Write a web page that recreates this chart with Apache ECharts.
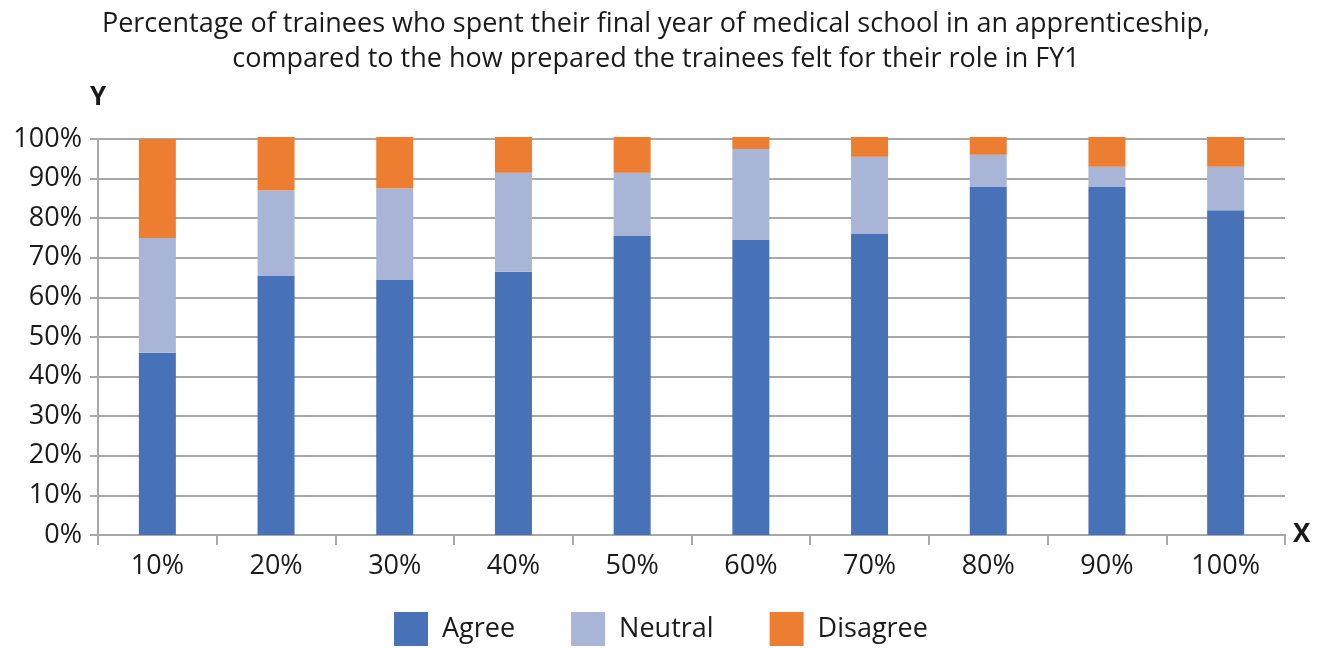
<!DOCTYPE html>
<html>
<head>
<meta charset="utf-8">
<script src="https://cdn.jsdelivr.net/npm/echarts@6/dist/echarts.min.js"></script>
<style>
  html, body { margin: 0; padding: 0; background: #fff; }
  #chart { width: 1325px; height: 648px; }
</style>
</head>
<body>
<div id="chart"></div>
<script>
"use strict";

const categories = ["10%", "20%", "30%", "40%", "50%", "60%", "70%", "80%", "90%", "100%"];
const agree = [46, 65.5, 64.5, 66.5, 75.5, 74.5, 76, 88, 88, 82];
const neutral = [29, 21.5, 23, 25, 16, 23, 19.5, 8, 5, 11];
const disagree = [25, 13.5, 13, 9, 9, 3, 5, 4.5, 7.5, 7.5];
const yTicks = [0, 10, 20, 30, 40, 50, 60, 70, 80, 90, 100];

const colors = { agree: "#4872b7", neutral: "#a9b5d7", disagree: "#ed7d31", text: "#1a1a1a", line: "#a8a8a8" };
const font = "'Open Sans', 'Noto Sans', sans-serif";

const chart = echarts.init(document.getElementById("chart"), null, { renderer: "canvas" });

function stack(name, data, color) {
  return { name, type: "bar", stack: "total", barWidth: 37, clip: false, data, itemStyle: { color }, emphasis: { disabled: true } };
}

chart.setOption({
  animation: false,
  backgroundColor: "#fff",
  textStyle: { fontFamily: font, color: colors.text },
  title: {
    text: "Percentage of trainees who spent their final year of medical school in an apprenticeship,\ncompared to the how prepared the trainees felt for their role in FY1",
    left: 651, textAlign: "center", top: 2,
    textStyle: { fontFamily: font, fontSize: 27, fontWeight: "normal", color: colors.text, lineHeight: 35 },
  },
  grid: { left: 98, right: 40, top: 139, bottom: 113 },
  legend: {
    bottom: -3, left: 389, itemWidth: 34, itemHeight: 34, itemGap: 56,
    icon: "rect", textStyle: { fontSize: 27, color: colors.text, fontFamily: font, padding: [0, 0, 0, 9] },
    data: ["Agree", "Neutral", "Disagree"],
  },
  xAxis: {
    type: "category", data: categories, boundaryGap: true,
    name: "X", nameLocation: "end", nameGap: 8,
    nameTextStyle: { fontSize: 26, fontWeight: "bold", color: colors.text, verticalAlign: "middle", padding: [10, 0, 0, 0] },
    axisLine: { lineStyle: { color: colors.line, width: 2 } },
    axisTick: { show: true, alignWithLabel: false, length: 10, lineStyle: { color: colors.line, width: 2 } },
    axisLabel: { fontSize: 27, color: colors.text, margin: 18 },
  },
  yAxis: {
    type: "value", min: 0, max: 100, interval: 10,
    name: "Y", nameLocation: "end", nameGap: 28,
    nameTextStyle: { fontSize: 26, fontWeight: "bold", color: colors.text, align: "center" },
    axisLine: { show: true, lineStyle: { color: colors.line, width: 2 } },
    axisTick: { show: true, length: 8, lineStyle: { color: colors.line, width: 2 } },
    axisLabel: { fontSize: 27, color: colors.text, margin: 16, formatter: (v) => yTicks.includes(v) ? v + "%" : "" },
    splitLine: { lineStyle: { color: colors.line, width: 2 } },
  },
  series: [
    stack("Agree", agree, colors.agree),
    stack("Neutral", neutral, colors.neutral),
    stack("Disagree", disagree, colors.disagree),
  ],
});
</script>
</body>
</html>
